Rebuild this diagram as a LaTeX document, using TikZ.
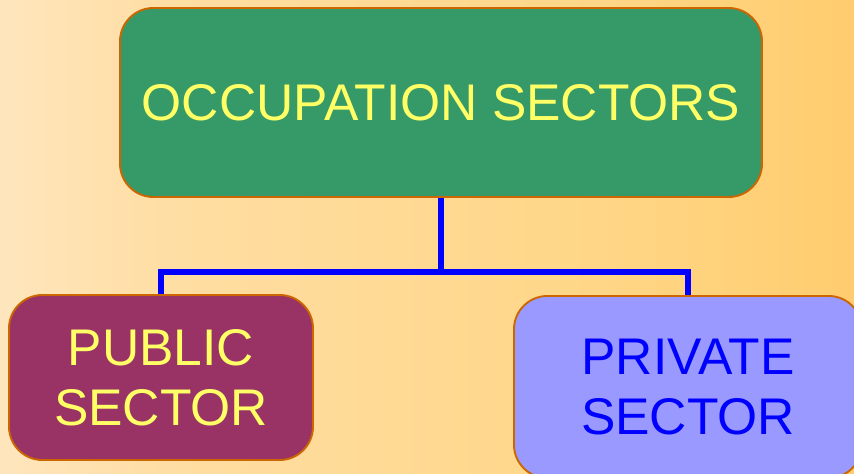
\documentclass[tikz,border=0pt]{standalone}
\usepackage{fontspec}
\setmainfont{Liberation Sans}
\usepackage{tikz}
\usetikzlibrary{shapes.geometric, arrows}
\definecolor{boxGreen}{RGB}{54,153,104}
\definecolor{boxPlum}{RGB}{153,51,102}
\definecolor{boxLilac}{RGB}{153,153,255}
\definecolor{edgeOrange}{RGB}{204,102,0}
\definecolor{textYellow}{RGB}{255,255,102}
\pgfdeclarehorizontalshading{warmBackground}{100bp}{
	rgb(0bp)=(1,0.91,0.76); rgb(25bp)=(1,0.90,0.74); rgb(35bp)=(1,0.87,0.64);
	rgb(60bp)=(1,0.84,0.53); rgb(80bp)=(1,0.79,0.40); rgb(100bp)=(1,0.79,0.38)}
\tikzstyle{sectorBox} = [shape=rectangle, draw=edgeOrange, line width=1.6pt,
	align=center, rounded corners=1cm, inner sep=0pt,
	font=\fontsize{44}{51}\selectfont]
\tikzstyle{HeadBox} = [sectorBox, fill=boxGreen, text=textYellow,
	minimum width=19.26cm, minimum height=5.67cm]
\tikzstyle{PublicBox} = [sectorBox, fill=boxPlum, text=textYellow,
	minimum width=9.12cm, minimum height=4.95cm]
\tikzstyle{PrivateBox} = [sectorBox, fill=boxLilac, text=blue,
	minimum width=10.44cm, minimum height=5.46cm]
\tikzstyle{treeLine} = [line width=5pt, draw=blue]

\begin{document}
\begin{tikzpicture}[x=0.03cm, y=-0.03cm]
  \shade [shading=warmBackground] (0,0) rectangle (854,474);
  \useasboundingbox (0,0) rectangle (854,474);
  \node (OCC) [HeadBox] at (441,102.5) {OCCUPATION SECTORS};
  \node (PUB) [PublicBox] at (161,377.5) {PUBLIC\\SECTOR};
  \node (PRI) [PrivateBox] at (688,387) {PRIVATE\\SECTOR};

  \draw [treeLine] (OCC.south) -- ++(0,74) -| (PUB.north);
  \draw [treeLine] (OCC.south) -- ++(0,74) -| (PRI.north);
\end{tikzpicture}
\end{document}
